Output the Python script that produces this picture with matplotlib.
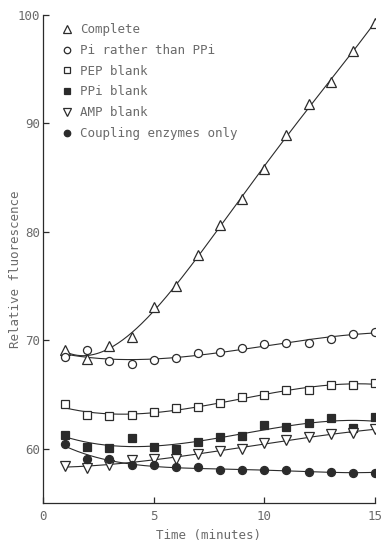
import matplotlib
matplotlib.use("Agg")
import matplotlib.pyplot as plt
import numpy as np
from matplotlib.lines import Line2D

# time points (minutes)
time_min = [1, 2, 3, 4, 5, 6, 7, 8, 9, 10, 11, 12, 13, 14, 15]

complete = [69.1, 68.3, 69.5, 70.3, 73.1, 75.0, 77.9, 80.6, 83.0, 85.8, 88.9, 91.8, 93.8, 96.7, 99.3]
pi_not_ppi = [68.5, 69.1, 68.1, 67.8, 68.2, 68.4, 68.8, 68.9, 69.3, 69.7, 69.8, 69.8, 70.1, 70.6, 70.8]
pep_blank = [64.1, 63.1, 63.0, 63.1, 63.4, 63.8, 63.9, 64.2, 64.8, 65.0, 65.4, 65.4, 65.9, 65.9, 66.1]
ppi_blank = [61.3, 60.2, 60.1, 61.0, 60.2, 60.0, 60.6, 61.1, 61.2, 62.2, 62.0, 62.4, 62.8, 61.9, 62.9]
amp_blank = [58.4, 58.2, 58.5, 59.0, 59.1, 59.1, 59.5, 59.8, 60.0, 60.5, 60.8, 61.1, 61.4, 61.5, 61.8]
coupling_only = [60.4, 59.1, 59.1, 58.5, 58.5, 58.3, 58.3, 58.0, 58.0, 58.0, 58.0, 57.9, 57.9, 57.8, 57.8]

labels = ["Complete", "Pi rather than PPi", "PEP blank", "PPi blank",
          "AMP blank", "Coupling enzymes only"]

ink = "#2b2b2b"
txt = "#6a6a6a"
mono = "DejaVu Sans Mono"

plt.rcParams["font.family"] = mono

fig = plt.figure(figsize=(3.82, 5.41), dpi=100)
ax = fig.add_axes([0.1126, 0.0702, 0.869, 0.902])

series = [
    (complete, "^", "white", 7.0, 4),
    (pi_not_ppi, "o", "white", 5.8, 3),
    (pep_blank, "s", "white", 5.4, 3),
    (ppi_blank, "s", ink, 5.4, 3),
    (amp_blank, "v", "white", 6.5, 3),
    (coupling_only, "o", ink, 5.8, 4),
]

x = np.array(time_min, dtype=float)
xs = np.linspace(1, 15, 200)
handles = []
for (vals, mk, fc, ms, deg), lab in zip(series, labels):
    # smooth fitted curve through each series
    coef = np.polyfit(x, vals, deg)
    ax.plot(xs, np.polyval(coef, xs), color=ink, lw=0.8, zorder=2)
    ax.plot(x, vals, ls="none", marker=mk, mfc=fc, mec=ink, mew=0.9, ms=ms, zorder=3)
    handles.append(Line2D([], [], ls="none", marker=mk, mfc=fc, mec=ink, mew=0.9,
                          ms=ms * 0.8))

ax.set_xlim(0, 15)
ax.set_ylim(55, 100)
ax.set_xticks([0, 5, 10, 15])
ax.set_yticks([60, 70, 80, 90, 100])
ax.spines["top"].set_visible(False)
ax.spines["right"].set_visible(False)
for s in ["left", "bottom"]:
    ax.spines[s].set_color(ink)
    ax.spines[s].set_linewidth(0.9)
ax.tick_params(direction="in", length=4, width=0.9, color=ink, labelcolor=txt,
               labelsize=9)
ax.tick_params(axis="y", pad=2)
ax.tick_params(axis="x", pad=5)
ax.set_xlabel("Time (minutes)", color=txt, fontsize=9, labelpad=4)
ax.set_ylabel("Relative fluorescence", color=txt, fontsize=9)
ax.yaxis.set_label_coords(-0.062, 0.48)

ax.legend(handles, labels, loc="upper left", bbox_to_anchor=(0.03, 1.0),
          frameon=False, fontsize=9, labelcolor=txt, handlelength=1.0,
          handletextpad=0.55, labelspacing=0.62, borderaxespad=0.25)

fig.savefig("out.png", dpi=100)
